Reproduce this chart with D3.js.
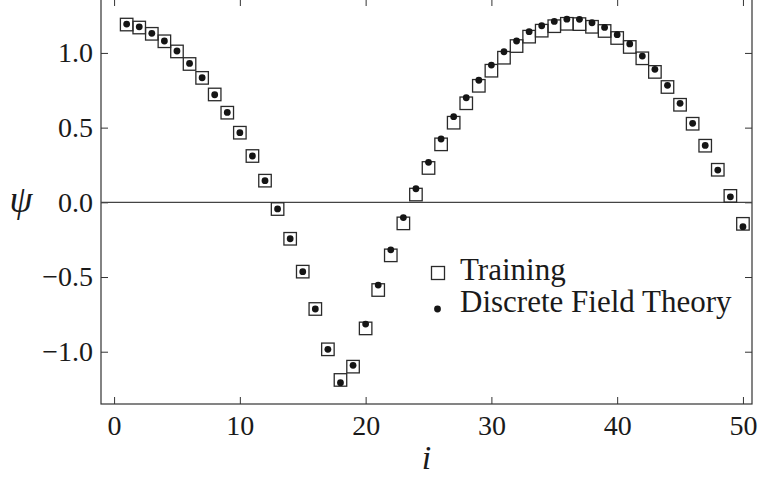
<!DOCTYPE html>
<meta charset="utf-8">
<style>
  body { margin: 0; padding: 0; background: #fff; }
  svg text { font-family: "Liberation Serif", "DejaVu Serif", serif; fill: #1a1a1a; }
  .tick line { stroke: #333; stroke-width: 1; }
</style>
<body>
<script src="https://d3js.org/d3.v7.min.js"></script>
<script>

var steps = d3.range(1, 51);

var training = [1.190, 1.170, 1.128, 1.078, 1.010, 0.926, 0.833, 0.722, 0.600, 0.466,
  0.310, 0.145, -0.045, -0.244, -0.464, -0.714, -0.984, -1.189, -1.100, -0.844,
  -0.587, -0.355, -0.141, 0.052, 0.230, 0.388, 0.533, 0.663, 0.780, 0.881,
  0.968, 1.046, 1.109, 1.149, 1.179, 1.195, 1.193, 1.175, 1.147, 1.100,
  1.040, 0.964, 0.873, 0.772, 0.653, 0.526, 0.379, 0.218, 0.043, -0.144];

var dft = [1.193, 1.175, 1.131, 1.080, 1.013, 0.930, 0.834, 0.720, 0.602, 0.466,
  0.310, 0.145, -0.044, -0.244, -0.464, -0.714, -0.984, -1.207, -1.091, -0.815,
  -0.554, -0.318, -0.102, 0.091, 0.268, 0.424, 0.573, 0.700, 0.817, 0.919,
  1.008, 1.080, 1.142, 1.182, 1.211, 1.226, 1.225, 1.202, 1.171, 1.122,
  1.060, 0.979, 0.890, 0.783, 0.663, 0.529, 0.381, 0.216, 0.037, -0.163];

var xMajor = [0, 10, 20, 30, 40, 50];
var xMinor = [2, 4, 6, 8, 12, 14, 16, 18, 22, 24, 26, 28, 32, 34, 36, 38, 42, 44, 46, 48];
var yMajor = [-1.0, -0.5, 0.0, 0.5, 1.0];
var yMinor = [-1.3, -1.2, -1.1, -0.9, -0.8, -0.7, -0.6, -0.4, -0.3, -0.2, -0.1,
  0.1, 0.2, 0.3, 0.4, 0.6, 0.7, 0.8, 0.9, 1.1, 1.2, 1.3];

var legendLabels = ["Training", "Discrete Field Theory"];

var width = 758, height = 477;
var plotLeft = 101, plotRight = 752, plotTop = -1, plotBottom = 404;

var svg = d3.select("body").append("svg")
  .attr("width", width)
  .attr("height", height);

var x = d3.scaleLinear().domain([-1.04, 50.72]).range([plotLeft, plotRight]);
var y = d3.scaleLinear().domain([-1.35, 1.361]).range([plotBottom, plotTop]);

var fmt = function(d) { return d3.format(".1f")(d).replace("-", "\u2212"); };

// axes: major ticks with labels, minor ticks bare, all pointing in
function axis(gen, values, size, labels) {
  return gen.tickValues(values).tickSize(-size)
    .tickFormat(labels ? fmt : function() { return ""; });
}

var gx = svg.append("g").attr("transform", "translate(0," + plotBottom + ")");
gx.call(axis(d3.axisBottom(x), xMinor, 4, false));
gx.call(axis(d3.axisBottom(x), xMajor, 7, true).tickFormat(d3.format("d")).tickPadding(11));

var gxt = svg.append("g").attr("transform", "translate(0," + plotTop + ")");
gxt.call(axis(d3.axisTop(x), xMinor, 4, false));
gxt.call(axis(d3.axisTop(x), xMajor, 7, false));

var gy = svg.append("g").attr("transform", "translate(" + plotLeft + ",0)");
gy.call(axis(d3.axisLeft(y), yMinor, 4, false));
gy.call(axis(d3.axisLeft(y), yMajor, 7, true).tickPadding(8));

var gyr = svg.append("g").attr("transform", "translate(" + plotRight + ",0)");
gyr.call(axis(d3.axisRight(y), yMinor, 4, false));
gyr.call(axis(d3.axisRight(y), yMajor, 7, false));

svg.selectAll(".domain").remove();
svg.selectAll(".tick text")
  .attr("font-family", "Liberation Serif")
  .attr("font-size", 28)
  .attr("fill", "#1a1a1a");

// frame
svg.append("rect")
  .attr("x", plotLeft).attr("y", plotTop)
  .attr("width", plotRight - plotLeft).attr("height", plotBottom - plotTop)
  .attr("fill", "none").attr("stroke", "#333").attr("stroke-width", 1.2);

// zero line
svg.append("line")
  .attr("x1", plotLeft).attr("x2", plotRight)
  .attr("y1", y(0)).attr("y2", y(0))
  .attr("stroke", "#444").attr("stroke-width", 1.2);

var sq = 12.5;

svg.append("g").selectAll("rect")
  .data(steps)
  .join("rect")
  .attr("x", function(d) { return x(d) - sq / 2; })
  .attr("y", function(d, i) { return y(training[i]) - sq / 2; })
  .attr("width", sq).attr("height", sq)
  .attr("fill", "none").attr("stroke", "#2a2a2a").attr("stroke-width", 1.3);

svg.append("g").selectAll("circle")
  .data(steps)
  .join("circle")
  .attr("cx", function(d) { return x(d); })
  .attr("cy", function(d, i) { return y(dft[i]); })
  .attr("r", 3.4)
  .attr("fill", "#151515");

// axis labels
svg.append("text")
  .attr("x", 21).attr("y", y(0) + 10)
  .attr("text-anchor", "middle")
  .attr("font-size", 37).attr("font-style", "italic")
  .text("\u03c8");

svg.append("text")
  .attr("x", (plotLeft + plotRight) / 2).attr("y", 469)
  .attr("text-anchor", "middle")
  .attr("font-size", 34).attr("font-style", "italic")
  .text("i");

// legend
var legend = svg.append("g");
legend.append("rect")
  .attr("x", 431.5).attr("y", 266.5).attr("width", 13).attr("height", 13)
  .attr("fill", "none").attr("stroke", "#2a2a2a").attr("stroke-width", 1.3);
legend.append("circle")
  .attr("cx", 437.5).attr("cy", 309).attr("r", 3.4).attr("fill", "#151515");
legend.selectAll("text")
  .data(legendLabels)
  .join("text")
  .attr("x", 460)
  .attr("y", function(d, i) { return 280 + i * 32; })
  .attr("font-size", 31)
  .text(function(d) { return d; });

</script>
</body>
